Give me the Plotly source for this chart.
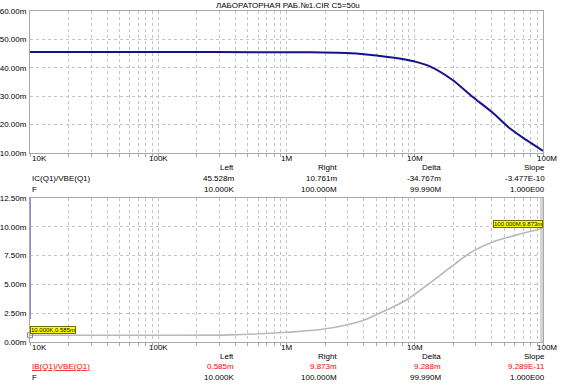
import plotly.graph_objects as go
import math

W, H = 565, 385

# ---- data ----
freq_top = [1e4, 1e5, 1e6, 1.43e6, 2.9e6, 4.2e6, 8e6, 1e7, 1.3e7, 1.96e7, 2.8e7, 4.0e7, 5.5e7, 7.4e7, 1e8]
ic_vbe = [45.528, 45.528, 45.5, 45.45, 45.2, 44.7, 43.1, 42.2, 40.6, 35.8, 29.9, 24.4, 18.7, 14.6, 10.761]

freq_bot = [1e4, 1e5, 3.6e5, 1e6, 1.9e6, 3.9e6, 5.3e6, 8.6e6, 1.3e7, 2.0e7, 2.8e7, 4.1e7, 5.8e7, 1e8]
ib_vbe = [0.585, 0.59, 0.62, 0.84, 1.10, 1.85, 2.49, 3.65, 5.09, 6.68, 7.84, 8.71, 9.2, 9.873]

spike_freq = [1e4, 1e4]
spike_vals = [2.0, 12.5]

cursor_freq = [1e8, 1e8]
cursor_vals = [0, 12.5]

x_tick_vals = [1e4, 1e5, 1e6, 1e7, 1e8]
x_tick_text = ["10K", "100K", "1M", "10M", "100M"]
top_y_ticks = [10, 20, 30, 40, 50, 60]
top_y_text = ["10.00m", "20.00m", "30.00m", "40.00m", "50.00m", "60.00m"]
bot_y_ticks = [0, 2.5, 5, 7.5, 10, 12.5]
bot_y_text = ["0.00m", "2.50m", "5.00m", "7.50m", "10.00m", "12.50m"]

title = "ЛАБОРАТОРНАЯ РАБ.№1.CIR C5=50u"
top_label = "IC(Q1)/VBE(Q1)"
bot_label = "IB(Q1)/VBE(Q1)"
cols = ["Left", "Right", "Delta", "Slope"]
top_row1 = ["45.528m", "10.761m", "-34.767m", "-3.477E-10"]
top_row2 = ["10.000K", "100.000M", "99.990M", "1.000E00"]
bot_row1 = ["0.585m", "9.873m", "9.288m", "9.289E-11"]
bot_row2 = ["10.000K", "100.000M", "99.990M", "1.000E00"]

FONT = "Arial, Liberation Sans, sans-serif"
GRID = "#c4c4c4"
AXL = "#a8a8a8"


def px(x):
    return x / W


def py(y):
    return 1 - y / H


grid_x = []
for d in range(4, 8):
    for m in range(1, 10):
        grid_x.append(m * 10 ** d)
grid_x.append(1e8)

fig = go.Figure()
fig.add_trace(go.Scatter(x=freq_top, y=ic_vbe, mode="lines", xaxis="x", yaxis="y",
                         line=dict(color="#14148a", width=2, shape="spline", smoothing=0.8),
                         showlegend=False, hoverinfo="skip"))
fig.add_trace(go.Scatter(x=cursor_freq, y=cursor_vals, mode="lines", xaxis="x2", yaxis="y2",
                         line=dict(color="#d4d4d4", width=6), showlegend=False, hoverinfo="skip"))
fig.add_trace(go.Scatter(x=freq_bot, y=ib_vbe, mode="lines", xaxis="x2", yaxis="y2",
                         line=dict(color="#b8b8b8", width=1.6, shape="spline", smoothing=0.8),
                         showlegend=False, hoverinfo="skip"))
fig.add_trace(go.Scatter(x=spike_freq, y=spike_vals, mode="lines", xaxis="x2", yaxis="y2",
                         line=dict(color="#8c8ce0", width=2), showlegend=False, hoverinfo="skip"))
fig.add_trace(go.Scatter(x=[freq_bot[0]], y=[ib_vbe[0]], mode="markers", xaxis="x2", yaxis="y2",
                         marker=dict(symbol="square-open", size=5, color="#808080", line=dict(width=1)),
                         cliponaxis=False, showlegend=False, hoverinfo="skip"))

xcommon = dict(type="log", range=[4, 8], tickvals=grid_x, showticklabels=False,
               ticks="outside", ticklen=3, tickcolor=AXL, showgrid=True, gridcolor=GRID,
               griddash="dot", gridwidth=1, showline=True, linecolor=AXL, mirror=True,
               zeroline=False, fixedrange=True, automargin=False)
ycommon = dict(showgrid=True, gridcolor=GRID, griddash="dot", gridwidth=1, showline=True,
               linecolor=AXL, mirror=True, zeroline=False, ticks="", ticklen=0,
               ticklabelstandoff=1,
               tickfont=dict(family=FONT, size=8, color="#000000"), fixedrange=True,
               automargin=False)

x0, x1 = px(30), px(543)
fig.update_layout(
    width=W, height=H, margin=dict(l=0, r=0, t=0, b=0, autoexpand=False),
    paper_bgcolor="white", plot_bgcolor="white",
    xaxis=dict(domain=[x0, x1], anchor="y", **xcommon),
    yaxis=dict(domain=[py(153), py(11)], range=[10, 60], tickvals=top_y_ticks,
               ticktext=top_y_text, anchor="x", **ycommon),
    xaxis2=dict(domain=[x0, x1], anchor="y2", **xcommon),
    yaxis2=dict(domain=[py(342), py(198)], range=[0, 12.5], tickvals=bot_y_ticks,
                ticktext=bot_y_text, anchor="x2", **ycommon),
    showlegend=False,
)

ann = []
ann.append(dict(text=title, x=px(288), y=py(5), xref="paper", yref="paper",
                xanchor="center", yanchor="middle", showarrow=False,
                font=dict(family=FONT, size=8, color="#000000")))

# x tick labels
for yy, xr in [(158, "x"), (347, "x2")]:
    for i, (v, t) in enumerate(zip(x_tick_vals, x_tick_text)):
        anchor = "left" if i == 0 else "center"
        shift = 4 if i == len(x_tick_vals) - 1 else 0
        ann.append(dict(text=t, x=math.log10(v), xref=xr, y=py(yy), yref="paper",
                        xanchor=anchor, yanchor="middle", xshift=shift, showarrow=False,
                        font=dict(family=FONT, size=8, color="#000000")))

col_right = [236, 339, 443, 547]


def block(ys, label, row1, row2, color, underline):
    lab = f"<u>{label}</u>" if underline else label
    ann.append(dict(text=lab, x=px(30), y=py(ys[1]), xref="paper", yref="paper",
                    xanchor="left", yanchor="middle", showarrow=False,
                    font=dict(family=FONT, size=8, color=color)))
    ann.append(dict(text="F", x=px(30), y=py(ys[2]), xref="paper", yref="paper",
                    xanchor="left", yanchor="middle", showarrow=False,
                    font=dict(family=FONT, size=8, color="#000000")))
    for c, xr in enumerate(col_right):
        for txt, yy, colr in [(cols[c], ys[0], "#000000"), (row1[c], ys[1], color), (row2[c], ys[2], "#000000")]:
            ann.append(dict(text=txt, x=px(xr), y=py(yy), xref="paper", yref="paper",
                            xanchor="right", yanchor="middle", showarrow=False,
                            font=dict(family=FONT, size=8, color=colr)))


block([167.5, 178.5, 189], top_label, top_row1, top_row2, "#000000", False)
block([356, 366.5, 377], bot_label, bot_row1, bot_row2, "#ff0000", True)

# cursor value boxes
ann.append(dict(text="10.000K,0.585m", x=4, xref="x2", y=ib_vbe[0], yref="y2",
                xanchor="left", yanchor="bottom", yshift=1, showarrow=False,
                bgcolor="#ffff00", bordercolor="#707000", borderwidth=1, borderpad=0,
                font=dict(family=FONT, size=6, color="#000000")))
ann.append(dict(text="100.000M,9.873m", x=8, xref="x2", y=ib_vbe[-1], yref="y2",
                xanchor="right", yanchor="bottom", showarrow=False,
                bgcolor="#ffff00", bordercolor="#707000", borderwidth=1, borderpad=0,
                font=dict(family=FONT, size=6, color="#000000")))

fig.update_layout(annotations=ann)
fig.write_html("out.html", config={"displayModeBar": False},
               post_script="document.body.style.margin='0';document.body.style.padding='0';")
